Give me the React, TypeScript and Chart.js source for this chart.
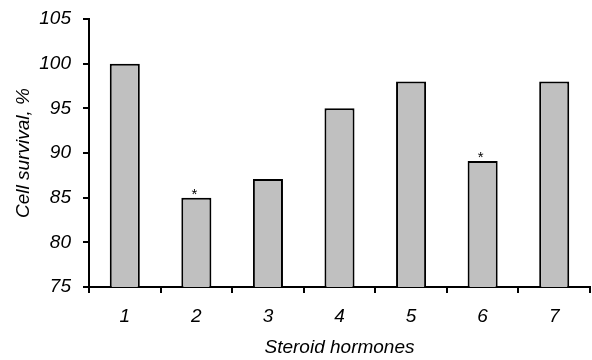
import React, { useEffect, useRef } from "react";
import { Chart, registerables } from "chart.js";

Chart.register(...registerables);

const categories = ["1", "2", "3", "4", "5", "6", "7"];
const survival = [100, 85, 87.1, 95, 98, 89.1, 98];
const significance = ["", "*", "", "", "", "*", ""];
const yTicks = [75, 80, 85, 90, 95, 100, 105];

const FONT = "'Liberation Sans', Arial, sans-serif";

const asteriskPlugin = {
  id: "asterisks",
  afterDatasetsDraw(chart: any) {
    const meta = chart.getDatasetMeta(0);
    const ctx = chart.ctx;
    ctx.save();
    ctx.fillStyle = "#000";
    ctx.font = `15px ${FONT}`;
    ctx.textAlign = "center";
    ctx.textBaseline = "alphabetic";
    meta.data.forEach((bar: any, i: number) => {
      if (significance[i]) {
        ctx.fillText(significance[i], bar.x - 2, bar.y + 1);
      }
    });
    ctx.restore();
  },
};

export default function App() {
  const ref = useRef<HTMLCanvasElement | null>(null);
  useEffect(() => {
    if (!ref.current) return;
    const chart = new Chart(ref.current, {
      type: "bar",
      data: {
        labels: categories,
        datasets: [
          {
            data: survival,
            backgroundColor: "#c0c0c0",
            borderColor: "#000",
            borderWidth: 2,
            categoryPercentage: 1,
            barPercentage: 0.42,
          },
        ],
      },
      options: {
        animation: false,
        responsive: false,
        maintainAspectRatio: false,
        layout: { padding: { top: 19, right: 2, left: 0, bottom: 0 } },
        plugins: { legend: { display: false }, tooltip: { enabled: false } },
        scales: {
          x: {
            grid: {
              display: true,
              drawOnChartArea: false,
              drawTicks: true,
              tickLength: 6,
              color: "#000",
              lineWidth: 2,
              offset: true,
            },
            border: { display: true, color: "#000", width: 2 },
            ticks: {
              color: "#000",
              padding: 12,
              font: { family: FONT, size: 19, style: "italic" },
            },
            title: {
              display: true,
              text: "Steroid hormones",
              color: "#000",
              padding: { top: 0, bottom: 1 },
              font: { family: FONT, size: 19, style: "italic" },
            },
            afterFit(scale: any) {
              scale.height = 73;
              scale.paddingLeft = 0;
              scale.paddingRight = 0;
            },
          },
          y: {
            min: 75,
            max: 105,
            afterBuildTicks(scale: any) {
              scale.ticks = yTicks.map((v) => ({ value: v }));
            },
            grid: {
              display: true,
              drawOnChartArea: false,
              drawTicks: true,
              tickLength: 6,
              color: "#000",
              lineWidth: 2,
            },
            border: { display: true, color: "#000", width: 2 },
            ticks: {
              color: "#000",
              padding: 12,
              font: { family: FONT, size: 19, style: "italic" },
            },
            title: {
              display: true,
              text: "Cell survival, %",
              color: "#000",
              padding: { top: 12, bottom: 0 },
              font: { family: FONT, size: 19, style: "italic" },
            },
            afterFit(scale: any) {
              scale.width = 89;
              scale.paddingTop = 0;
              scale.paddingBottom = 0;
            },
          },
        },
      },
      plugins: [asteriskPlugin],
    });
    return () => chart.destroy();
  }, []);
  return (
    <div style={{ position: "absolute", left: 0, top: 0, width: 592, height: 360, background: "#fff" }}>
      <canvas ref={ref} width={592} height={360} style={{ display: "block", width: 592, height: 360 }} />
    </div>
  );
}
